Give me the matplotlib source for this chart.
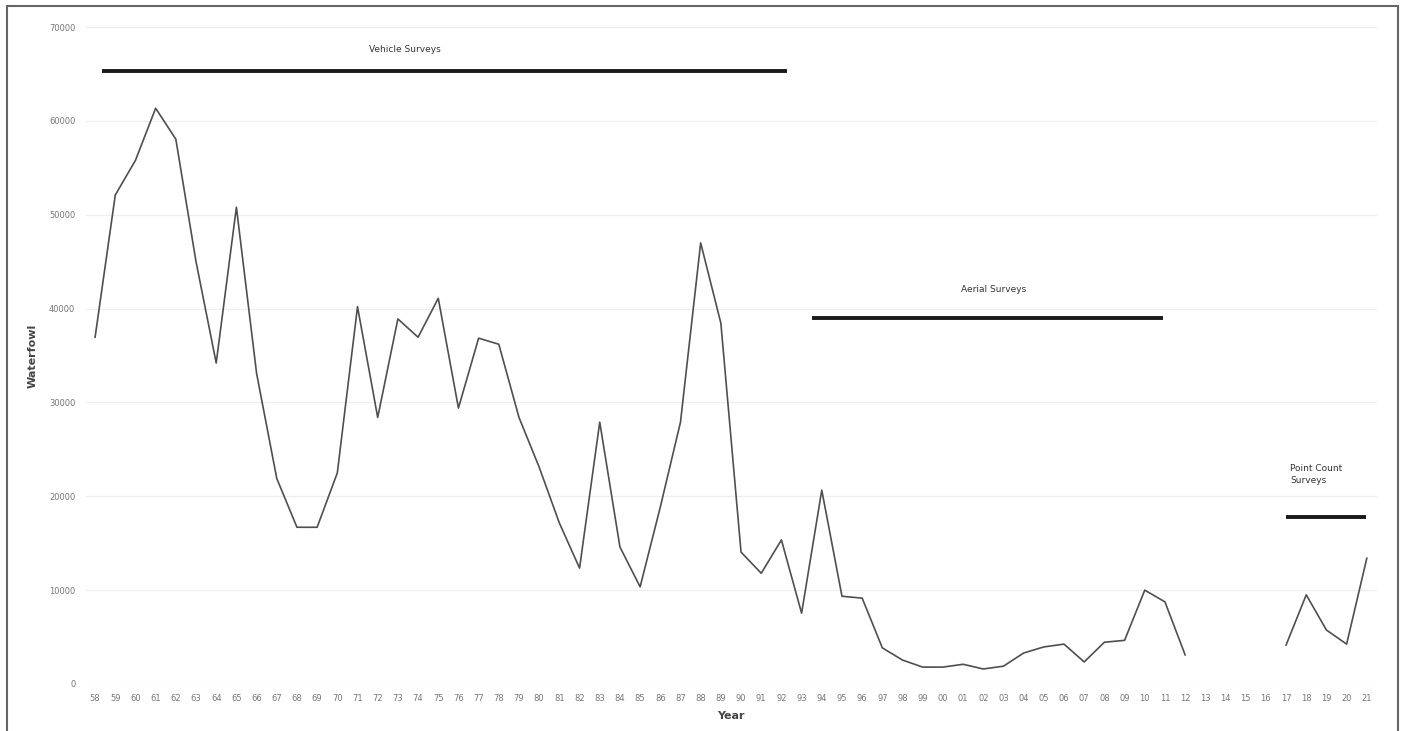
import numpy as np
import matplotlib.pyplot as plt
from matplotlib.patches import Rectangle

# === Dati ===
anni = ['58', '59', '60', '61', '62', '63', '64', '65', '66', '67', '68', '69',
        '70', '71', '72', '73', '74', '75', '76', '77', '78', '79', '80', '81',
        '82', '83', '84', '85', '86', '87', '88', '89', '90', '91', '92', '93',
        '94', '95', '96', '97', '98', '99', '00', '01', '02', '03', '04', '05',
        '06', '07', '08', '09', '10', '11', '12', '13', '14', '15', '16', '17',
        '18', '19', '20', '21']
uccelli = [36950, 52100, 55800, 61350, 58050, 45000, 34200, 50800, 33100, 21900,
           16700, 16700, 22500, 40200, 28400, 38900, 36950, 41100, 29400, 36850,
           36200, 28400, 23100, 17150, 12350, 27900, 14600, 10350, 18850, 27900,
           47000, 38450, 14050, 11800, 15350, 7550, 20650, 9350, 9150, 3850,
           2550, 1800, 1800, 2100, 1600, 1900, 3300, 3950, 4250, 2350,
           4450, 4650, 10000, 8750, 3100, np.nan, np.nan, np.nan, np.nan, 4150,
           9500, 5750, 4250, 13400]

# periodi dei rilievi: (etichetta, inizio, fine, livello)
rilievi_nomi = ['Vehicle Surveys', 'Aerial Surveys', 'Point Count\nSurveys']
rilievi_inizio = ['58', '94', '17']
rilievi_fine = ['92', '11', '20']
rilievi_livello = [65300, 39000, 17800]

# === Plot ===
fig = plt.figure(figsize=(14.05, 7.31), dpi=100)
ax = fig.add_axes([0.0605, 0.0643, 0.9195, 0.8987])

x = np.arange(len(anni))
ax.plot(x, uccelli, color='#4f4f4f', linewidth=1.2)

pos = {a: i for i, a in enumerate(anni)}
for nome, a0, a1, liv in zip(rilievi_nomi, rilievi_inizio, rilievi_fine, rilievi_livello):
    i0, i1 = pos[a0], pos[a1]
    if nome.startswith('Vehicle'):
        i0 += 0.35
        i1 += 0.3
        ax.text((i0 + i1) / 2 - 2.0, liv + 2300, nome, ha='center', va='center',
                fontsize=6.5, color='#333333')
    elif nome.startswith('Aerial'):
        i0 -= 0.5
        i1 -= 0.1
        ax.text((i0 + i1) / 2 + 0.3, liv + 3000, nome, ha='center', va='center',
                fontsize=6.5, color='#333333')
    else:
        i1 += 0.95
        ax.text(i0 + 0.2, liv + 4500, nome, ha='left', va='center',
                fontsize=6.5, color='#333333', linespacing=1.5)
    ax.plot([i0, i1], [liv, liv], color='#1a1a1a', linewidth=2.8, solid_capstyle='butt')

ax.set_xlim(-0.5, len(anni) - 0.5)
ax.set_ylim(0, 70000)
ax.set_xticks(x)
ax.set_xticklabels(anni, fontsize=6, color='#777777')
ax.set_yticks(np.arange(0, 70001, 10000))
ax.set_yticklabels([str(v) for v in range(0, 70001, 10000)], fontsize=6, color='#777777')
ax.tick_params(length=0, pad=7)
ax.grid(axis='y', color='#eeeeee', linewidth=0.9)
ax.set_axisbelow(True)
for s in ax.spines.values():
    s.set_visible(False)

ax.set_xlabel('Year', fontsize=8, fontweight='bold', color='#444444', labelpad=6)
ax.set_ylabel('Waterfowl', fontsize=8, fontweight='bold', color='#444444', labelpad=8)

# bordo esterno della figura
fig.patches.append(Rectangle((7 / 1405, -0.05), 1391 / 1405, 1.05 - 6 / 731,
                             transform=fig.transFigure, fill=False,
                             edgecolor='#666666', linewidth=1.5))

fig.savefig('out.png', dpi=100)
